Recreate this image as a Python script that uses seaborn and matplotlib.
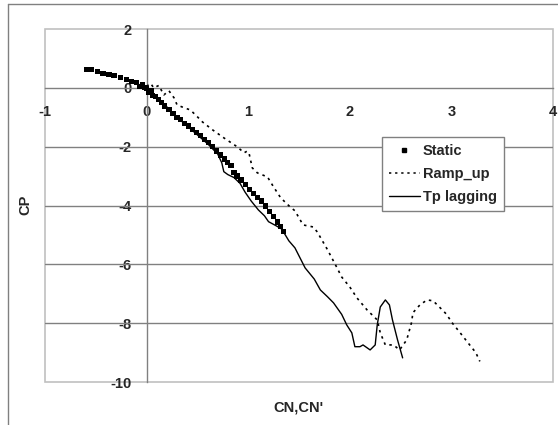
import numpy as np
import pandas as pd
import matplotlib
matplotlib.use("Agg")
import matplotlib.pyplot as plt
from matplotlib.lines import Line2D
from matplotlib.patches import Rectangle
import seaborn as sns

# Static measurements
static_cn = [-0.59, -0.54, -0.48, -0.43, -0.37, -0.32, -0.26, -0.20, -0.15, -0.10,
             -0.07, -0.04, -0.02, 0.00, 0.02, 0.05, 0.06, 0.09, 0.12, 0.15,
             0.18, 0.22, 0.26, 0.30, 0.33, 0.37, 0.41, 0.45, 0.49, 0.53,
             0.57, 0.61, 0.65, 0.69, 0.73, 0.77, 0.80, 0.83, 0.86, 0.89,
             0.93, 0.97, 1.01, 1.05, 1.09, 1.13, 1.17, 1.21, 1.25, 1.29,
             1.32, 1.35]
static_cp = [0.62, 0.62, 0.55, 0.50, 0.45, 0.42, 0.35, 0.28, 0.22, 0.18,
             0.05, 0.10, 0.02, -0.02, -0.15, -0.10, -0.25, -0.30, -0.40, -0.50,
             -0.62, -0.75, -0.88, -1.00, -1.09, -1.20, -1.30, -1.42, -1.53, -1.63,
             -1.75, -1.87, -2.00, -2.15, -2.28, -2.42, -2.55, -2.65, -2.88, -3.00,
             -3.13, -3.28, -3.45, -3.58, -3.72, -3.85, -4.02, -4.20, -4.38, -4.56,
             -4.72, -4.88]

# Ramp-up run
ramp_cn = [0.00, 0.04, 0.07, 0.12, 0.17, 0.22, 0.27, 0.30, 0.37, 0.43,
           0.49, 0.55, 0.65, 0.76, 0.89, 0.96, 0.99, 1.01, 1.04, 1.09,
           1.19, 1.25, 1.32, 1.41, 1.46, 1.54, 1.64, 1.68, 1.78, 1.87,
           1.92, 2.00, 2.07, 2.17, 2.27, 2.30, 2.35, 2.43, 2.49, 2.56,
           2.61, 2.62, 2.69, 2.76, 2.82, 2.89, 2.95, 3.01, 3.08, 3.18,
           3.24, 3.28]
ramp_cp = [0.05, 0.15, 0.00, 0.08, -0.24, -0.10, -0.34, -0.58, -0.68, -0.75,
           -0.95, -1.16, -1.43, -1.70, -2.00, -2.21, -2.15, -2.25, -2.72, -2.89,
           -3.03, -3.37, -3.74, -4.04, -4.18, -4.66, -4.73, -4.90, -5.50, -6.09,
           -6.43, -6.77, -7.14, -7.55, -7.89, -8.33, -8.74, -8.74, -8.91, -8.57,
           -7.95, -7.65, -7.38, -7.21, -7.24, -7.48, -7.69, -8.00, -8.30, -8.74,
           -9.00, -9.30]

# Tp lagging run
lag_cn = [-0.08, -0.04, 0.00, 0.05, 0.10, 0.20, 0.30, 0.40, 0.50, 0.60,
          0.70, 0.74, 0.76, 0.80, 0.86, 0.92, 0.97, 1.03, 1.10, 1.16,
          1.20, 1.27, 1.33, 1.40, 1.46, 1.56, 1.65, 1.71, 1.78, 1.84,
          1.92, 1.97, 2.02, 2.05, 2.10, 2.13, 2.20, 2.25, 2.27, 2.30,
          2.35, 2.39, 2.42, 2.47, 2.52]
lag_cp = [0.12, 0.05, 0.00, -0.20, -0.35, -0.65, -1.00, -1.30, -1.60, -1.90,
          -2.25, -2.55, -2.85, -2.95, -3.05, -3.25, -3.55, -3.85, -4.15, -4.35,
          -4.55, -4.68, -4.80, -5.20, -5.44, -6.12, -6.50, -6.87, -7.10, -7.31,
          -7.70, -8.06, -8.33, -8.80, -8.80, -8.74, -8.91, -8.74, -8.06, -7.45,
          -7.21, -7.38, -7.89, -8.57, -9.18]

x_ticks = [-1, 0, 1, 2, 3, 4]
y_ticks = [-10, -8, -6, -4, -2, 0, 2]

sns.set_style("white")
plt.rcParams["font.family"] = ["Liberation Sans", "DejaVu Sans"]
plt.rcParams["font.weight"] = "bold"

fig = plt.figure(figsize=(5.58, 4.25), dpi=100)
ax = fig.add_axes([45 / 558, 1 - 382 / 425, 508 / 558, 353 / 425])

grid_col = "#808080"
for yv in y_ticks:
    if yv not in (0, 2, -10):
        ax.axhline(yv, color=grid_col, lw=1.0, zorder=1)

static_df = pd.DataFrame({"CN": static_cn, "CP": static_cp})
ramp_df = pd.DataFrame({"CN": ramp_cn, "CP": ramp_cp})
lag_df = pd.DataFrame({"CN": lag_cn, "CP": lag_cp})

sns.scatterplot(data=static_df, x="CN", y="CP", marker="s", s=14, color="black",
                edgecolor="none", ax=ax, zorder=4, label="Static")
sns.lineplot(data=ramp_df, x="CN", y="CP", sort=False, estimator=None, color="black",
             lw=1.2, ax=ax, zorder=3, label="Ramp_up")
sns.lineplot(data=lag_df, x="CN", y="CP", sort=False, estimator=None, color="black",
             lw=1.0, ax=ax, zorder=3, label="Tp lagging")
ax.lines[-2].set_linestyle((0, (1.5, 2.5)))

ax.set_xlim(-1, 4)
ax.set_ylim(-10, 2)
ax.set_xticks(x_ticks)
ax.set_yticks(y_ticks)
ax.set_xticklabels([str(v) for v in x_ticks])
ax.set_yticklabels([str(v) for v in y_ticks])
ax.set_xlabel("")
ax.set_ylabel("")

# axes crossing at the origin
for side in ("top", "right"):
    ax.spines[side].set_visible(False)
ax.spines["left"].set_position(("data", 0))
ax.spines["bottom"].set_position(("data", 0))
for side in ("left", "bottom"):
    ax.spines[side].set_color(grid_col)
    ax.spines[side].set_linewidth(1.0)
    ax.spines[side].set_zorder(2)
ax.tick_params(axis="both", direction="out", length=4, width=1, color=grid_col,
               labelsize=10.5, pad=4)
ax.tick_params(axis="x", pad=8)
ax.tick_params(axis="y", pad=7)
for lab in ax.get_xticklabels() + ax.get_yticklabels():
    lab.set_fontweight("bold")

# plot-area frame
ax.add_patch(Rectangle((0, 0), 1, 1, transform=ax.transAxes, fill=False,
                       ec="#c0c0c0", lw=1.2, clip_on=False, zorder=0))

handles = [Line2D([], [], marker="s", ms=3.5, color="black", ls="none"),
           Line2D([], [], color="black", lw=1.1, ls=(0, (1.5, 2.5))),
           Line2D([], [], color="black", lw=1.0)]
leg = ax.legend(handles, ["Static", "Ramp_up", "Tp lagging"], loc="upper left",
                bbox_to_anchor=(0.663, 0.694), frameon=True, fancybox=False,
                framealpha=1, edgecolor="#808080",
                prop={"weight": "bold", "size": 10.5}, handlelength=2.1,
                handletextpad=0.2, borderpad=0.5, labelspacing=0.6,
                borderaxespad=0)
leg.get_frame().set_linewidth(1.0)
leg.set_zorder(5)

fig.text(25 / 558, 1 - 205 / 425, "CP", rotation=90, ha="center", va="center",
         fontsize=10.5, fontweight="bold")
fig.text(298 / 558, 1 - 407 / 425, "CN,CN'", ha="center", va="center",
         fontsize=10.5, fontweight="bold")

# outer chart border (left and top edges)
fig.add_artist(Line2D([8 / 558, 8 / 558], [0, 1 - 4 / 425], color="#808080", lw=1.0))
fig.add_artist(Line2D([8 / 558, 1], [1 - 4 / 425, 1 - 4 / 425], color="#808080", lw=1.0))

fig.savefig("out.png", dpi=100)
